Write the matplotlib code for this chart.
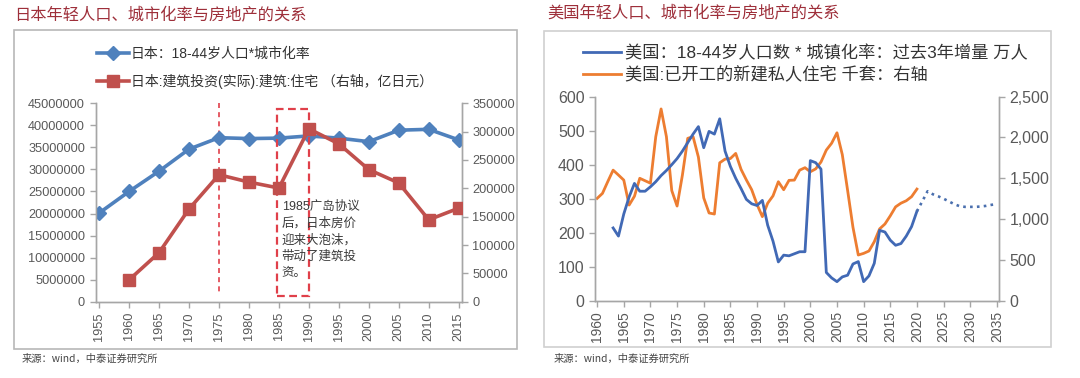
import numpy as np
import matplotlib
matplotlib.use("Agg")
import matplotlib.pyplot as plt
from matplotlib.patches import Rectangle
from matplotlib.ticker import FuncFormatter

plt.rcParams['font.family'] = ['Liberation Sans', 'Noto Sans CJK SC', 'DejaVu Sans']

## Japan chart data (5-year steps)
jp_years = [1955, 1960, 1965, 1970, 1975, 1980, 1985, 1990, 1995, 2000, 2005, 2010, 2015]
jp_pop_urban = [20100000, 25000000, 29600000, 34600000, 37200000, 37000000, 37100000,
                37600000, 37100000, 36300000, 38900000, 39100000, 36700000]
jp_inv_years = [1960, 1965, 1970, 1975, 1980, 1985, 1990, 1995, 2000, 2005, 2010, 2015]
jp_invest = [38500, 86500, 163500, 224000, 211000, 200500, 305000, 278500, 233000, 209500, 144500, 165000]

## US chart data (annual)
us_pop_years = list(range(1963, 2021))
us_pop_delta = [214, 190, 255, 305, 345, 322, 322, 335, 350, 368, 383, 400, 418, 440, 465, 490,
                512, 450, 498, 490, 535, 440, 395, 360, 330, 298, 285, 280, 295, 222, 175, 114,
                134, 132, 138, 144, 144, 412, 406, 387, 83, 67, 56, 70, 75, 108, 115, 56,
                73, 110, 207, 202, 178, 163, 168, 190, 218, 263]
us_proj_years = list(range(2020, 2036))
us_proj_delta = [263, 292, 322, 313, 307, 300, 292, 284, 278, 276, 276, 276, 277, 279, 282, 284]
us_start_years = list(range(1960, 2021))
us_starts = [1254, 1315, 1460, 1600, 1540, 1478, 1172, 1280, 1500, 1470, 1440, 2010, 2350, 2010,
             1350, 1160, 1540, 1990, 2010, 1760, 1260, 1075, 1062, 1690, 1735, 1742, 1805, 1610,
             1480, 1360, 1180, 1030, 1195, 1285, 1458, 1360, 1475, 1478, 1600, 1630, 1580, 1615,
             1700, 1846, 1930, 2058, 1790, 1350, 900, 560, 580, 609, 723, 880, 940, 1040, 1150,
             1195, 1225, 1275, 1368]

W, H = 1080, 378
fig = plt.figure(figsize=(W / 100, H / 100), dpi=100)


def px_axes(x0, x1, ytop, ybot):
    return [x0 / W, 1 - ybot / H, (x1 - x0) / W, (ybot - ytop) / H]


def px_rect(x0, x1, ytop, ybot):
    return (x0 / W, 1 - ybot / H), (x1 - x0) / W, (ybot - ytop) / H


grey = '#a6a6a6'
tick_grey = '#595959'
title_red = '#9e2f3a'

## Outer frames
xy, w, h = px_rect(13.5, 517, 29.5, 349)
fig.patches.append(Rectangle(xy, w, h, transform=fig.transFigure, fill=False, ec='#b8b8b8', lw=1.2))
xy, w, h = px_rect(544, 1051, 30.5, 347)
fig.patches.append(Rectangle(xy, w, h, transform=fig.transFigure, fill=False, ec='#d0d0d0', lw=1.2))

## Titles and sources
fig.text(14 / W, 1 - 15.5 / H, '日本年轻人口、城市化率与房地产的关系', color=title_red,
         fontsize=11.7, va='center', ha='left', family=['Noto Sans CJK SC'])
fig.text(547 / W, 1 - 14 / H, '美国年轻人口、城市化率与房地产的关系', color=title_red,
         fontsize=11.7, va='center', ha='left', family=['Noto Sans CJK SC'])
fig.text(22 / W, 1 - 358.5 / H, '来源：wind，中泰证券研究所', color='#444444', fontsize=7.4,
         va='center', ha='left', family=['Noto Sans CJK SC', 'DejaVu Sans'])
fig.text(554 / W, 1 - 358.5 / H, '来源：wind，中泰证券研究所', color='#444444', fontsize=7.4,
         va='center', ha='left', family=['Noto Sans CJK SC', 'DejaVu Sans'])


def style_axes(ax, labelsize):
    ax.spines['top'].set_visible(False)
    for s in ['left', 'right', 'bottom']:
        ax.spines[s].set_color(grey)
        ax.spines[s].set_linewidth(1.0)
    ax.tick_params(colors=grey, labelcolor=tick_grey, labelsize=labelsize, length=4, width=1.0)


## ---------------- Japan chart ----------------
ax1 = fig.add_axes(px_axes(95.5, 461.7, 103.3, 301.7))
ax1b = ax1.twinx()
style_axes(ax1, 9.2)
style_axes(ax1b, 9.2)
l1, = ax1.plot(jp_years, jp_pop_urban, color='#4f81bd', lw=2.6, marker='D', ms=7,
               label='日本：18-44岁人口*城市化率', zorder=3)
l2, = ax1b.plot(jp_inv_years, jp_invest, color='#c0504d', lw=2.6, marker='s', ms=9,
                label='日本:建筑投资(实际):建筑:住宅 （右轴，亿日元）', zorder=3)
ax1.set_xlim(1954.4, 2015.5)
ax1.set_ylim(0, 45000000)
ax1b.set_ylim(0, 350000)
ax1.set_yticks(np.arange(0, 45000001, 5000000))
ax1b.set_yticks(np.arange(0, 350001, 50000))
ax1.yaxis.set_major_formatter(FuncFormatter(lambda v, p: '%d' % v))
ax1b.yaxis.set_major_formatter(FuncFormatter(lambda v, p: '%d' % v))
ax1.set_xticks(jp_years)
ax1.set_xticklabels([str(y) for y in jp_years], rotation=90)

# annotations
ax1.plot([1975, 1975], [45000000, 1700000], color='#e0404a', lw=1.2, ls=(0, (3, 2.5)), zorder=2)
ax1.add_patch(Rectangle((1984.6, 1300000), 5.4, 42400000, fill=False, ec='#e0404a', lw=1.6,
                        ls=(0, (3.5, 2)), zorder=4))
ax1.text(1985.45, 22800000, '1985广岛协议\n后，日本房价\n迎来大泡沫，\n带动了建筑投\n资。',
         fontsize=9, color='#3a3a3a', va='top', ha='left', linespacing=1.45, zorder=5,
         family=['Liberation Sans', 'Noto Sans CJK SC'])

fig.legend(handles=[l1, l2], loc='upper left', bbox_to_anchor=(97 / W, 1 - 47 / H),
           frameon=False, fontsize=10, handlelength=2.3, handletextpad=0.15,
           labelspacing=0.9, borderpad=0, borderaxespad=0, labelcolor='#333333')

## ---------------- US chart ----------------
ax2 = fig.add_axes(px_axes(595, 999, 96.7, 300.7))
ax2b = ax2.twinx()
style_axes(ax2, 11.5)
style_axes(ax2b, 11.5)
m1, = ax2.plot(us_pop_years, us_pop_delta, color='#4169b5', lw=2.0,
               label='美国：18-44岁人口数 * 城镇化率：过去3年增量 万人', zorder=3)
ax2.plot(us_proj_years, us_proj_delta, color='#4a6fae', lw=1.9, ls=(0, (1, 1.6)), zorder=3)
m2, = ax2b.plot(us_start_years, us_starts, color='#ed7d31', lw=2.0,
                label='美国:已开工的新建私人住宅 千套：右轴', zorder=2)
ax2.set_zorder(ax2b.get_zorder() + 1)
ax2.patch.set_visible(False)
ax2.set_xlim(1959.6, 2035.4)
ax2.set_ylim(0, 600)
ax2b.set_ylim(0, 2500)
ax2.set_yticks(np.arange(0, 601, 100))
ax2b.set_yticks(np.arange(0, 2501, 500))
ax2b.yaxis.set_major_formatter(FuncFormatter(lambda v, p: '{:,.0f}'.format(v)))
xt = list(range(1960, 2036, 5))
ax2.set_xticks(xt)
ax2.set_xticklabels([str(y) for y in xt], rotation=90, fontsize=10)

fig.legend(handles=[m1, m2], loc='upper left', bbox_to_anchor=(583 / W, 1 - 45 / H),
           frameon=False, fontsize=12.4, handlelength=2.2, handletextpad=0.25,
           labelspacing=0.3, borderpad=0, borderaxespad=0, labelcolor='#333333')

fig.savefig('out.png', dpi=100)
